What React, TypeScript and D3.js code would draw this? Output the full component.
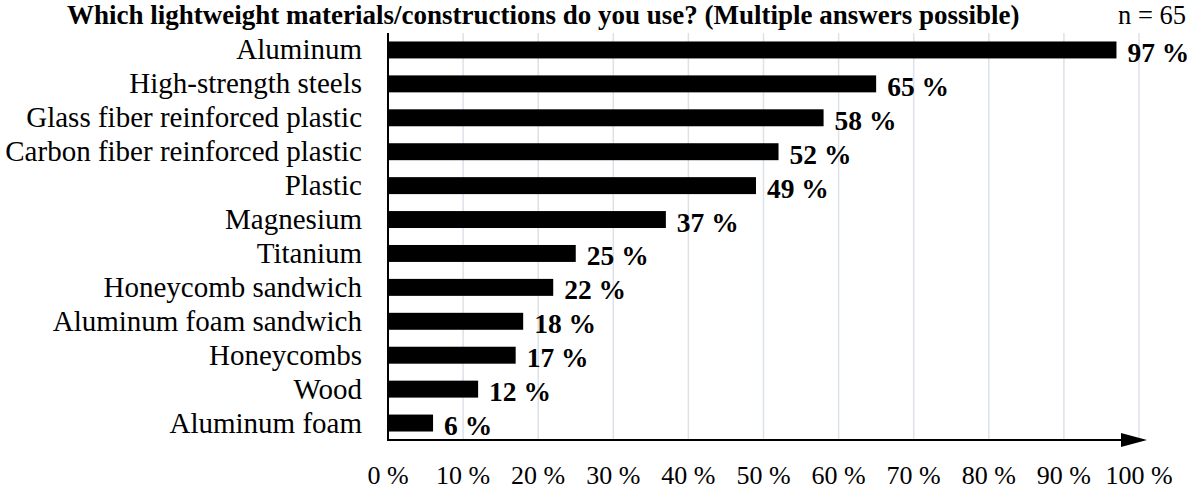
import React from "react";
import * as d3 from "d3";

const categories = [
  "Aluminum",
  "High-strength steels",
  "Glass fiber reinforced plastic",
  "Carbon fiber reinforced plastic",
  "Plastic",
  "Magnesium",
  "Titanium",
  "Honeycomb sandwich",
  "Aluminum foam sandwich",
  "Honeycombs",
  "Wood",
  "Aluminum foam",
];
const values = [97, 65, 58, 52, 49, 37, 25, 22, 18, 17, 12, 6];
const ticks = [0, 10, 20, 30, 40, 50, 60, 70, 80, 90, 100];
const title = "Which lightweight materials/constructions do you use? (Multiple answers possible)";
const sampleNote = "n = 65";

const W = 1190;
const H = 491;
const FONT = "'Liberation Serif', 'Times New Roman', serif";

export default function App() {
  const x = d3.scaleLinear().domain([0, 100]).range([388, 1139]);
  const y = d3
    .scaleBand<string>()
    .domain(categories)
    .range([33, 440])
    .paddingInner(0.5)
    .paddingOuter(0.25);
  const axisY = 440;
  const top = 33;
  const arrowTip = 1147;
  const arrowBase = 1121;

  return (
    <svg width={W} height={H} style={{ position: "absolute", left: 0, top: 0, background: "#fff" }}>
      <rect x={0} y={0} width={W} height={H} fill="#fff" />
      {ticks.slice(1).map((t) => (
        <line key={t} x1={x(t)} x2={x(t)} y1={top} y2={axisY} stroke="#dde1e8" strokeWidth={1.5} />
      ))}
      {categories.map((c, i) => (
        <g key={c}>
          <rect x={x(0)} y={y(c)!} width={x(values[i]) - x(0)} height={y.bandwidth()} fill="#000" />
          <text
            x={362}
            y={y(c)! + y.bandwidth() / 2 + 9.5}
            textAnchor="end"
            fontFamily={FONT}
            fontSize={29}
            fill="#000"
          >
            {c}
          </text>
          <text
            x={x(values[i]) + 11}
            y={y(c)! + y.bandwidth() / 2 + 12}
            fontFamily={FONT}
            fontSize={27.5}
            fontWeight="bold"
            fill="#000"
          >
            {values[i]} %
          </text>
        </g>
      ))}
      <line x1={x(0)} x2={x(0)} y1={top} y2={axisY + 1} stroke="#000" strokeWidth={2} />
      <line x1={x(0)} x2={arrowBase + 2} y1={axisY} y2={axisY} stroke="#000" strokeWidth={2} />
      <path d={`M${arrowBase},${axisY - 7} L${arrowTip},${axisY} L${arrowBase},${axisY + 7} Z`} fill="#000" />
      {ticks.map((t) => (
        <text key={t} x={x(t)} y={484} textAnchor="middle" fontFamily={FONT} fontSize={26} fill="#000">
          {t} %
        </text>
      ))}
      <text x={67} y={24} fontFamily={FONT} fontSize={27} fontWeight="bold" fill="#000">
        {title}
      </text>
      <text x={1186} y={24} textAnchor="end" fontFamily={FONT} fontSize={26.5} fill="#000">
        {sampleNote}
      </text>
    </svg>
  );
}
